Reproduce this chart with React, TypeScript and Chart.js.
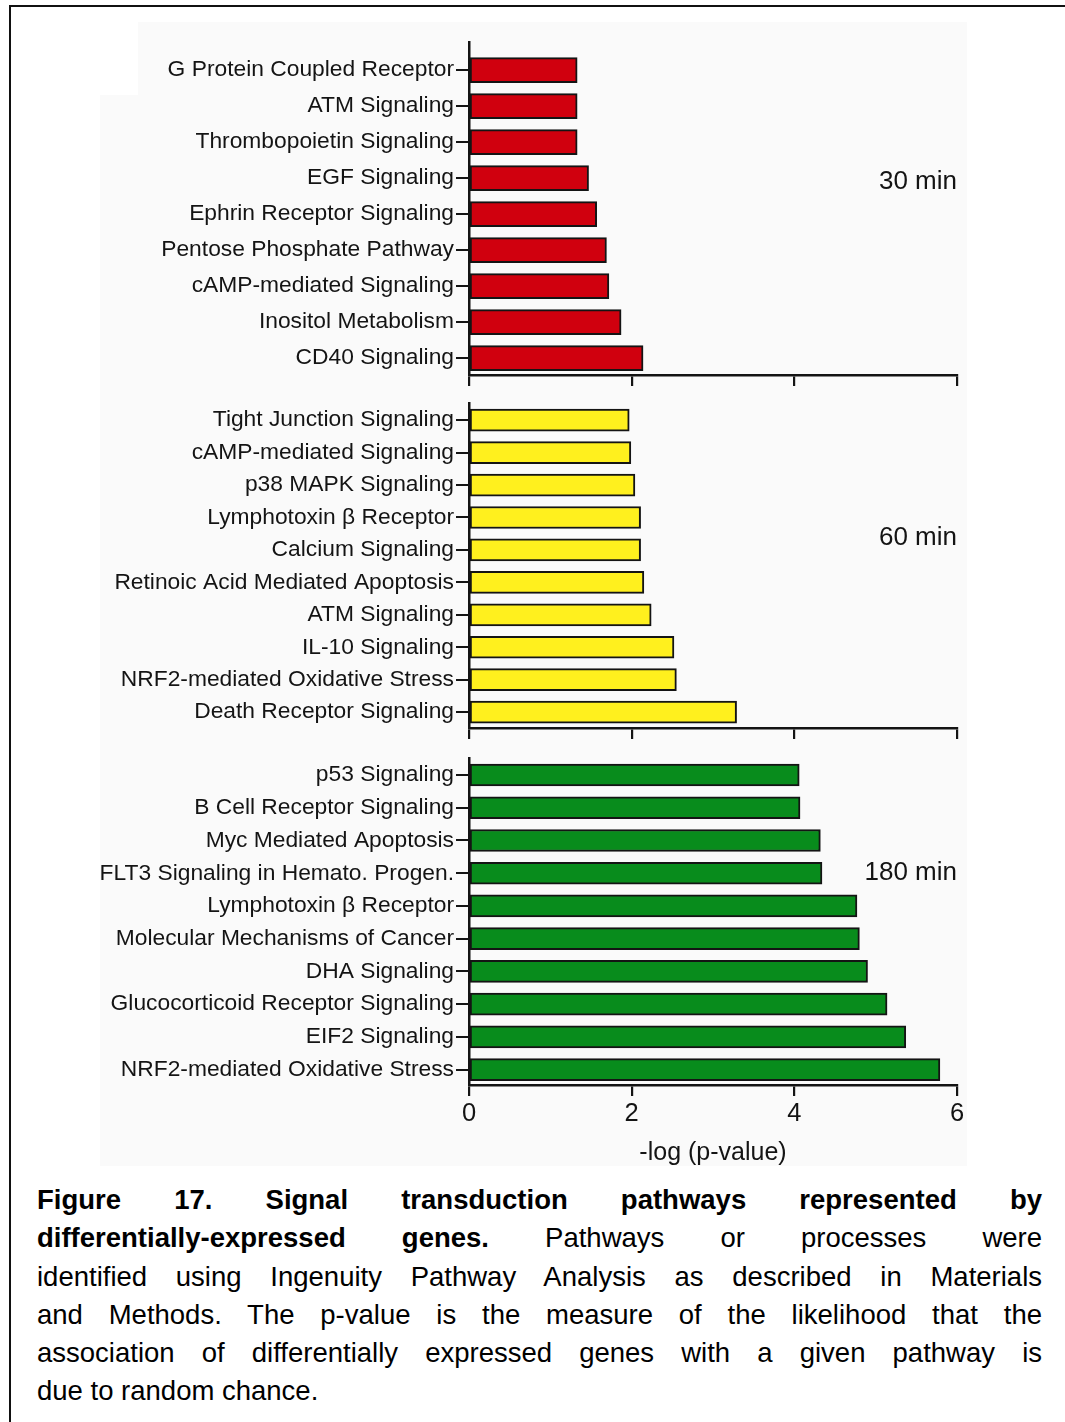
import React, { useEffect, useRef } from 'react';
import { Chart, registerables } from 'chart.js';

Chart.register(...registerables);

// ---- data -----------------------------------------------------------------

const labels30 = [
  'G Protein Coupled Receptor',
  'ATM Signaling',
  'Thrombopoietin Signaling',
  'EGF Signaling',
  'Ephrin Receptor Signaling',
  'Pentose Phosphate Pathway',
  'cAMP-mediated Signaling',
  'Inositol Metabolism',
  'CD40 Signaling',
];
const values30 = [1.33, 1.33, 1.33, 1.47, 1.57, 1.69, 1.72, 1.87, 2.14];

const labels60 = [
  'Tight Junction Signaling',
  'cAMP-mediated Signaling',
  'p38 MAPK Signaling',
  'Lymphotoxin \u03B2 Receptor',
  'Calcium Signaling',
  'Retinoic Acid Mediated Apoptosis',
  'ATM Signaling',
  'IL-10 Signaling',
  'NRF2-mediated Oxidative Stress',
  'Death Receptor Signaling',
];
const values60 = [1.97, 1.99, 2.04, 2.11, 2.11, 2.15, 2.24, 2.52, 2.55, 3.29];

const labels180 = [
  'p53 Signaling',
  'B Cell Receptor Signaling',
  'Myc Mediated Apoptosis',
  'FLT3 Signaling in Hemato. Progen.',
  'Lymphotoxin \u03B2 Receptor',
  'Molecular Mechanisms of Cancer',
  'DHA Signaling',
  'Glucocorticoid Receptor Signaling',
  'EIF2 Signaling',
  'NRF2-mediated Oxidative Stress',
];
const values180 = [4.06, 4.07, 4.32, 4.34, 4.77, 4.8, 4.9, 5.14, 5.37, 5.79];

const timeLabels = ['30 min', '60 min', '180 min'];
const xTickValues = [0, 2, 4, 6];
const xMin = 0;
const xMax = 6;
const xTitle = '-log (p-value)';

// ---- styling / layout -----------------------------------------------------

const FONT = '"Liberation Sans", Arial, Helvetica, sans-serif';
const INK = '#141414';
const CANVAS_LEFT = 59;
const CANVAS_WIDTH = 940;
const Y_AXIS_WIDTH = 410;
const PAD_TOP = 20;
const PAD_RIGHT = 42;

type Panel = {
  labels: string[];
  values: number[];
  color: string;
  time: string;
  timeRow: number;
  areaTop: number;
  areaHeight: number;
  extTop: number;
  extBottom: number;
  barThickness: number;
  xAxisHeight: number;
  showXLabels: boolean;
};

const panels: Panel[] = [
  {
    labels: labels30, values: values30, color: '#d0000e', time: timeLabels[0], timeRow: 3.1,
    areaTop: 42, areaHeight: 333, extTop: 0.78, extBottom: 0.47, barThickness: 25,
    xAxisHeight: 24, showXLabels: false,
  },
  {
    labels: labels60, values: values60, color: '#fff01e', time: timeLabels[1], timeRow: 3.62,
    areaTop: 403, areaHeight: 325, extTop: 0.53, extBottom: 0.49, barThickness: 22,
    xAxisHeight: 24, showXLabels: false,
  },
  {
    labels: labels180, values: values180, color: '#088c1c', time: timeLabels[2], timeRow: 2.99,
    areaTop: 758, areaHeight: 327, extTop: 0.52, extBottom: 0.47, barThickness: 22,
    xAxisHeight: 90, showXLabels: true,
  },
];

// Writes the sampling-time tag ("30 min" …) at the right edge of each panel.
const timeTagPlugin = {
  id: 'timeTag',
  afterDraw(chart: any, _args: any, opts: any) {
    const { ctx, scales } = chart;
    ctx.save();
    ctx.font = `26px ${FONT}`;
    ctx.fillStyle = INK;
    ctx.textAlign = 'right';
    ctx.textBaseline = 'middle';
    ctx.fillText(opts.text, scales.x.getPixelForValue(xMax), scales.y.getPixelForValue(opts.row));
    ctx.restore();
  },
};

function buildConfig(p: Panel): any {
  const n = p.labels.length;
  return {
    type: 'bar',
    data: {
      datasets: [
        {
          data: p.values.map((v, i) => ({ x: v, y: i })),
          backgroundColor: p.color,
          borderColor: INK,
          borderWidth: 2,
          borderSkipped: false,
          barThickness: p.barThickness,
        },
      ],
    },
    options: {
      indexAxis: 'y',
      animation: false,
      responsive: false,
      maintainAspectRatio: false,
      events: [],
      layout: { padding: { top: PAD_TOP, right: PAD_RIGHT, left: 0, bottom: 0 } },
      plugins: {
        legend: { display: false },
        tooltip: { enabled: false },
        timeTag: { text: p.time, row: p.timeRow },
      },
      scales: {
        x: {
          type: 'linear',
          position: 'bottom',
          min: xMin,
          max: xMax,
          offset: false,
          afterBuildTicks: (s: any) => {
            s.ticks = xTickValues.map((v) => ({ value: v }));
          },
          afterFit: (s: any) => {
            s.height = p.xAxisHeight;
            s.paddingLeft = 0;
            s.paddingRight = 0;
          },
          grid: {
            display: true,
            offset: false,
            drawOnChartArea: false,
            drawTicks: true,
            tickLength: 11,
            color: INK,
            lineWidth: 2.2,
          },
          border: { display: true, color: INK, width: 2.5 },
          ticks: {
            display: p.showXLabels,
            font: { family: FONT, size: 25.5 },
            color: INK,
            padding: 3,
            maxRotation: 0,
            autoSkip: false,
          },
          title: {
            display: p.showXLabels,
            text: xTitle,
            font: { family: FONT, size: 25 },
            color: INK,
            padding: { top: 0, bottom: 7 },
          },
        },
        y: {
          type: 'linear',
          position: 'left',
          reverse: true,
          offset: false,
          min: -p.extTop,
          max: n - 1 + p.extBottom,
          afterBuildTicks: (s: any) => {
            s.ticks = p.labels.map((_, i) => ({ value: i }));
          },
          afterFit: (s: any) => {
            s.width = Y_AXIS_WIDTH;
            s.paddingTop = 0;
            s.paddingBottom = 0;
          },
          grid: {
            display: true,
            offset: false,
            drawOnChartArea: false,
            drawTicks: true,
            tickLength: 13,
            color: INK,
            lineWidth: 2,
          },
          border: { display: true, color: INK, width: 2.5 },
          ticks: {
            autoSkip: false,
            font: { family: FONT, size: 22.8 },
            color: INK,
            padding: 2,
            callback: (v: any) => p.labels[v] ?? '',
          },
        },
      },
    },
    plugins: [timeTagPlugin],
  };
}

function PanelChart({ p }: { p: Panel }) {
  const ref = useRef<HTMLCanvasElement | null>(null);
  const height = PAD_TOP + p.areaHeight + p.xAxisHeight;
  useEffect(() => {
    if (!ref.current) return;
    const chart = new Chart(ref.current, buildConfig(p));
    return () => chart.destroy();
  }, [p]);
  return (
    <canvas
      ref={ref}
      width={CANVAS_WIDTH}
      height={height}
      style={{
        position: 'absolute',
        left: CANVAS_LEFT,
        top: p.areaTop - PAD_TOP,
        width: CANVAS_WIDTH,
        height,
      }}
    />
  );
}

const captionStyle: React.CSSProperties = {
  textAlign: 'justify',
  textAlignLast: 'justify',
  whiteSpace: 'nowrap',
};

export default function App() {
  return (
    <div
      style={{
        position: 'absolute',
        left: 0,
        top: 0,
        width: 1065,
        height: 1422,
        overflow: 'hidden',
        background: '#ffffff',
        fontFamily: FONT,
        color: INK,
      }}
    >
      {/* figure frame */}
      <div
        style={{
          position: 'absolute',
          left: 9,
          top: 5,
          width: 1200,
          height: 1600,
          border: '2px solid #111',
        }}
      />
      {/* faint plot backdrop */}
      <div style={{ position: 'absolute', left: 138, top: 22, width: 829, height: 73, background: '#fafafa' }} />
      <div style={{ position: 'absolute', left: 100, top: 95, width: 867, height: 1071, background: '#fafafa' }} />

      {panels.map((p, i) => (
        <PanelChart key={i} p={p} />
      ))}

      <div
        style={{
          position: 'absolute',
          left: 37,
          top: 1181,
          width: 1005,
          fontSize: 27.5,
          lineHeight: '38.3px',
          color: '#000',
        }}
      >
        <div style={captionStyle}>
          <b>Figure 17. Signal transduction pathways represented by</b>
        </div>
        <div style={captionStyle}>
          <b>differentially-expressed genes.</b> Pathways or processes were
        </div>
        <div style={captionStyle}>identified using Ingenuity Pathway Analysis as described in Materials</div>
        <div style={captionStyle}>and Methods. The p-value is the measure of the likelihood that the</div>
        <div style={captionStyle}>association of differentially expressed genes with a given pathway is</div>
        <div>due to random chance.</div>
      </div>
    </div>
  );
}
